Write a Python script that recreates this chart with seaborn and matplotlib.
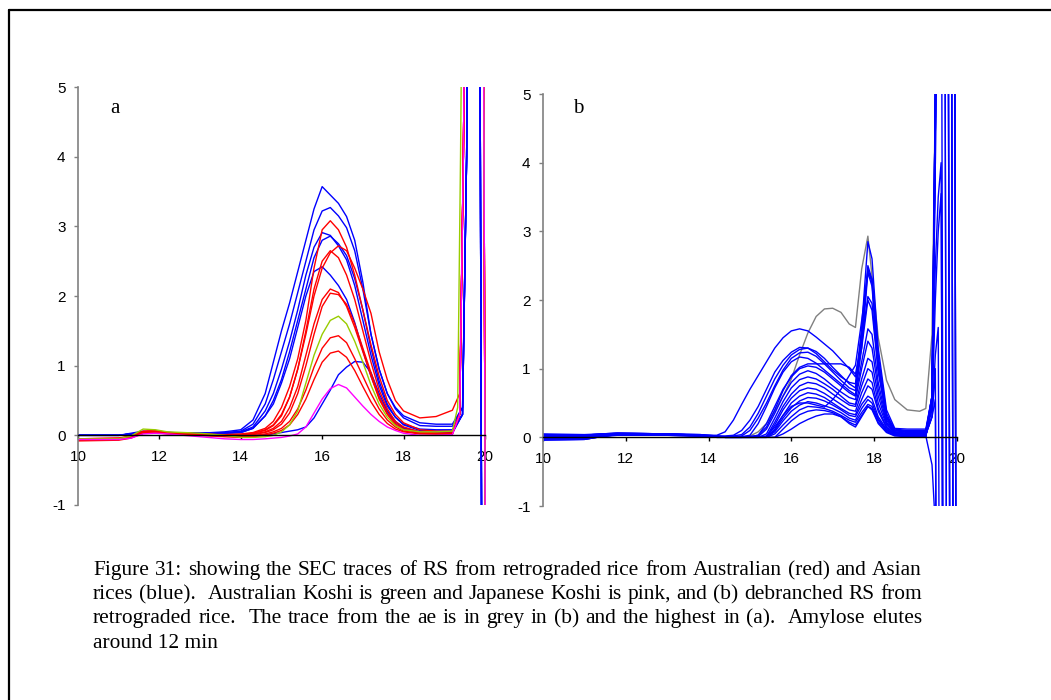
import re
import matplotlib
matplotlib.use("Agg")
import matplotlib.pyplot as plt
import pandas as pd
import seaborn as sns
from matplotlib.lines import Line2D

sns.set_theme(style="white")
plt.rcParams["font.family"] = ["Liberation Sans", "DejaVu Sans"]
plt.rcParams["axes.unicode_minus"] = False

# ---------------- data: panel a (SEC traces of RS) ----------------
time_a = [10.0, 11.0, 11.3, 11.6, 11.9, 12.2, 13.0, 13.6, 14.0, 14.3, 14.6, 14.8, 15.0, 15.2, 15.4,
          15.6, 15.8, 16.0, 16.2, 16.4, 16.6, 16.8, 17.0, 17.2, 17.4, 17.6, 17.8, 18.0, 18.4, 18.8]
tail_a_blue = [19.2, 19.45, 19.55, 19.62, 19.86, 19.96]
tail_a_red = [19.2, 19.38, 19.47, 19.55, 19.95, 20.05]
tail_a_green = [19.2, 19.33, 19.4, 19.48, 19.95, 20.05]
tail_a_pink = [19.2, 19.38, 19.47, 19.55, 19.95, 20.05]

a_blue_1 = [0.0, 0.0, 0.03, 0.06, 0.05, 0.04, 0.03, 0.05, 0.08, 0.22, 0.6, 1.05, 1.5, 1.9, 2.35, 2.8, 3.25, 3.57,
            3.45, 3.33, 3.14, 2.8, 2.2, 1.45, 0.95, 0.6, 0.4, 0.28, 0.18, 0.16, 0.16, 0.4, 4.0, 9, 9, -9]
a_blue_2 = [0.0, 0.0, 0.02, 0.05, 0.05, 0.04, 0.03, 0.04, 0.06, 0.16, 0.45, 0.8, 1.2, 1.6, 2.05, 2.5, 2.95, 3.22,
            3.27, 3.15, 2.98, 2.65, 2.1, 1.45, 0.95, 0.6, 0.38, 0.25, 0.14, 0.13, 0.13, 0.4, 4.0, 9, 9, -9]
a_blue_3 = [0.0, 0.0, 0.02, 0.05, 0.04, 0.04, 0.03, 0.03, 0.05, 0.12, 0.35, 0.6, 0.95, 1.35, 1.8, 2.3, 2.7, 2.91,
            2.87, 2.72, 2.52, 2.15, 1.65, 1.15, 0.72, 0.42, 0.26, 0.16, 0.09, 0.08, 0.08, 0.3, 4.0, 9, 9, -9]
a_blue_4 = [0.0, 0.0, 0.02, 0.04, 0.04, 0.03, 0.03, 0.03, 0.04, 0.1, 0.28, 0.5, 0.8, 1.2, 1.65, 2.1, 2.55, 2.8,
            2.86, 2.75, 2.58, 2.25, 1.8, 1.25, 0.78, 0.45, 0.26, 0.15, 0.07, 0.06, 0.06, 0.3, 4.0, 9, 9, -9]
a_blue_5 = [0.0, 0.0, 0.02, 0.04, 0.04, 0.03, 0.03, 0.03, 0.04, 0.1, 0.28, 0.45, 0.75, 1.1, 1.55, 2.0, 2.35, 2.42,
            2.3, 2.15, 1.95, 1.62, 1.22, 0.85, 0.55, 0.32, 0.19, 0.11, 0.05, 0.04, 0.04, 0.3, 4.0, 9, 9, -9]
a_blue_6 = [0.0, 0.0, 0.02, 0.04, 0.04, 0.03, 0.02, 0.01, 0.0, 0.0, 0.01, 0.02, 0.04, 0.06, 0.08, 0.12, 0.25, 0.45,
            0.65, 0.87, 0.98, 1.06, 1.05, 0.9, 0.6, 0.35, 0.2, 0.1, 0.04, 0.03, 0.03, 0.3, 4.0, 9, 9, -9]

a_red_1 = [-0.05, -0.04, -0.01, 0.06, 0.07, 0.04, 0.02, 0.01, 0.02, 0.04, 0.1, 0.2, 0.4, 0.7, 1.1, 1.65, 2.4, 2.95,
           3.08, 2.95, 2.7, 2.3, 1.8, 1.3, 0.85, 0.5, 0.3, 0.18, 0.08, 0.06, 0.06, 0.3, 4.0, 9, 9, -9]
a_red_2 = [-0.06, -0.05, -0.02, 0.05, 0.06, 0.04, 0.02, 0.0, 0.01, 0.03, 0.08, 0.15, 0.3, 0.55, 0.95, 1.45, 2.0, 2.4,
           2.62, 2.72, 2.65, 2.4, 2.1, 1.75, 1.2, 0.8, 0.5, 0.35, 0.25, 0.27, 0.36, 0.6, 4.0, 9, 9, -9]
a_red_3 = [-0.05, -0.04, -0.02, 0.05, 0.06, 0.04, 0.02, 0.0, 0.01, 0.03, 0.07, 0.14, 0.28, 0.55, 0.95, 1.5, 2.1, 2.5,
           2.65, 2.55, 2.3, 1.95, 1.5, 1.05, 0.65, 0.38, 0.2, 0.12, 0.05, 0.03, 0.03, 0.3, 4.0, 9, 9, -9]
a_red_4 = [-0.07, -0.06, -0.03, 0.04, 0.05, 0.03, 0.01, 0.0, 0.0, 0.02, 0.05, 0.1, 0.2, 0.4, 0.7, 1.15, 1.6, 1.95,
           2.1, 2.05, 1.85, 1.55, 1.2, 0.85, 0.52, 0.3, 0.15, 0.08, 0.04, 0.03, 0.03, 0.3, 4.0, 9, 9, -9]
a_red_5 = [-0.06, -0.05, -0.02, 0.05, 0.05, 0.03, 0.01, 0.0, 0.0, 0.01, 0.04, 0.08, 0.16, 0.32, 0.6, 1.0, 1.45, 1.85,
           2.04, 2.02, 1.88, 1.6, 1.25, 0.9, 0.55, 0.32, 0.17, 0.09, 0.04, 0.03, 0.03, 0.3, 4.0, 9, 9, -9]
a_red_6 = [-0.07, -0.06, -0.03, 0.04, 0.05, 0.03, 0.0, -0.01, -0.02, -0.01, 0.02, 0.05, 0.1, 0.2, 0.38, 0.65, 0.98,
           1.25, 1.4, 1.43, 1.33, 1.1, 0.85, 0.6, 0.38, 0.22, 0.12, 0.06, 0.03, 0.02, 0.02, 0.3, 4.0, 9, 9, -9]
a_red_7 = [-0.08, -0.07, -0.04, 0.03, 0.04, 0.02, 0.0, -0.02, -0.03, -0.02, 0.0, 0.03, 0.07, 0.15, 0.3, 0.52, 0.8,
           1.05, 1.18, 1.21, 1.12, 0.93, 0.7, 0.48, 0.3, 0.17, 0.09, 0.05, 0.02, 0.02, 0.02, 0.3, 4.0, 9, 9, -9]
a_green = [-0.05, -0.05, -0.01, 0.09, 0.08, 0.05, 0.03, 0.0, -0.03, -0.03, -0.02, 0.0, 0.05, 0.15, 0.35, 0.75, 1.15,
           1.45, 1.65, 1.71, 1.6, 1.35, 1.05, 0.72, 0.45, 0.26, 0.14, 0.08, 0.05, 0.05, 0.06, 0.4, 4.0, 9, 9, -9]
a_pink = [-0.06, -0.06, -0.04, 0.02, 0.03, 0.02, -0.02, -0.05, -0.06, -0.06, -0.05, -0.04, -0.03, -0.01, 0.02, 0.12,
          0.32, 0.52, 0.67, 0.73, 0.68, 0.55, 0.42, 0.3, 0.2, 0.12, 0.07, 0.03, 0.0, 0.0, 0.01, 0.3, 4.0, 9, 9, -9]

# ---------------- data: panel b (debranched RS) ----------------
time_b = [10.0, 11.0, 11.4, 11.8, 13.0, 13.8, 14.2, 14.4, 14.6, 14.8, 15.0, 15.2, 15.4, 15.6, 15.8, 16.0, 16.2,
          16.4, 16.6, 16.8, 17.0, 17.2, 17.4, 17.55, 17.7, 17.85, 17.95, 18.1, 18.3, 18.5, 18.8, 19.1,
          19.25, 19.4, 19.48, 19.55, 19.62, 19.7, 19.78, 19.86, 19.94, 20.0]

b_grey = [0.0, 0.0, 0.03, 0.04, 0.03, 0.02, 0.0,
          0.0, 0.0, 0.0, 0.02, 0.08, 0.2, 0.38, 0.6, 0.85, 1.2, 1.52, 1.76, 1.87, 1.88, 1.82, 1.65, 1.6, 2.45,
          2.93, 2.35, 1.45, 0.83, 0.55, 0.4, 0.38,
          0.42, 1.5, 5.0, 9, 9, 9, 9, 9, 9, -9]
b_blue_01 = [0.02, 0.02, 0.04, 0.05, 0.04, 0.03, 0.03,
             0.08, 0.25, 0.48, 0.7, 0.9, 1.1, 1.3, 1.45, 1.55, 1.58, 1.55, 1.46, 1.36, 1.26, 1.13, 1.0, 0.88, 1.3,
             2.0, 1.85, 0.95, 0.3, 0.12, 0.1, 0.1,
             0.1, 0.5, 4.0, 9, 9, 9, 9, 9, 9, -9]
b_blue_02 = [0.0, 0.0, 0.03, 0.05, 0.04, 0.03, 0.02,
             0.02, 0.03, 0.1, 0.25, 0.45, 0.7, 0.95, 1.12, 1.24, 1.31, 1.3, 1.22, 1.1, 0.98, 0.88, 0.8, 0.78, 1.6,
             2.85, 2.6, 1.3, 0.4, 0.13, 0.12, 0.12,
             0.12, 0.6, 5.0, 9, 9, 9, 9, 9, -9, -9]
b_blue_03 = [-0.03, -0.02, 0.02, 0.04, 0.04, 0.03, 0.01,
             0.01, 0.02, 0.04, 0.15, 0.35, 0.6, 0.85, 1.05, 1.2, 1.28, 1.3, 1.25, 1.15, 1.02, 0.9, 0.78, 0.72, 1.5,
             2.5, 2.3, 1.2, 0.35, 0.1, 0.08, 0.08,
             0.08, 0.6, 5.0, 9, 9, 9, 9, -9, -9, -9]
b_blue_04 = [0.04, 0.03, 0.05, 0.06, 0.05, 0.04, 0.02,
             0.01, 0.01, 0.02, 0.1, 0.28, 0.5, 0.75, 0.98, 1.15, 1.23, 1.24, 1.18, 1.07, 0.95, 0.83, 0.72, 0.68, 1.4,
             2.45, 2.25, 1.1, 0.3, 0.1, 0.07, 0.07,
             0.07, 0.5, 4.0, 9, 9, 9, -9, -9, -9, -9]
b_blue_05 = [-0.02, -0.02, 0.02, 0.05, 0.04, 0.02, 0.0,
             0.0, 0.0, 0.01, 0.03, 0.2, 0.45, 0.72, 0.95, 1.1, 1.17, 1.15, 1.08, 0.98, 0.88, 0.78, 0.68, 0.62, 1.3,
             2.4, 2.2, 1.0, 0.28, 0.08, 0.06, 0.06,
             0.06, 0.6, 5.0, 9, 9, -9, -9, -9, -9, -9]
b_blue_06 = [0.03, 0.03, 0.05, 0.06, 0.05, 0.03, 0.01,
             0.0, 0.0, 0.0, 0.01, 0.03, 0.15, 0.4, 0.68, 0.9, 1.02, 1.07, 1.07, 1.07, 1.07, 1.07, 1.02, 0.92, 1.4,
             2.05, 1.95, 1.0, 0.3, 0.1, 0.09, 0.09,
             0.09, 0.5, 2.5, 3.5, 4.0, -9, -9, -9, -9, -9]
b_blue_07 = [-0.04, -0.03, 0.01, 0.04, 0.03, 0.02, 0.0,
             0.0, 0.0, 0.0, 0.01, 0.03, 0.2, 0.45, 0.7, 0.88, 1.0, 1.04, 1.02, 0.95, 0.85, 0.75, 0.65, 0.6, 1.1,
             1.58, 1.5, 0.8, 0.25, 0.08, 0.05, 0.05,
             0.05, 0.4, 2.0, 3.0, 3.55, -9, -9, -9, -9, -9]
b_blue_08 = [0.01, 0.01, 0.04, 0.05, 0.04, 0.03, 0.01,
             0.0, 0.0, 0.0, 0.0, 0.01, 0.12, 0.35, 0.6, 0.8, 0.92, 0.97, 0.93, 0.85, 0.75, 0.66, 0.58, 0.55, 1.0,
             1.4, 1.3, 0.7, 0.22, 0.07, 0.05, 0.05,
             0.05, 0.3, 1.2, 1.6, -9, -9, -9, -9, -9, -9]
b_blue_09 = [0.05, 0.04, 0.05, 0.06, 0.05, 0.04, 0.02,
             0.0, 0.0, 0.0, 0.0, 0.0, 0.05, 0.28, 0.52, 0.72, 0.84, 0.88, 0.85, 0.78, 0.7, 0.6, 0.5, 0.48, 0.85,
             1.15, 1.1, 0.6, 0.2, 0.06, 0.04, 0.04,
             0.04, 0.3, 1.0, -9, -9, -9, -9, -9, -9, -9]
b_blue_10 = [-0.01, -0.01, 0.03, 0.05, 0.04, 0.03, 0.01,
             0.0, 0.0, 0.0, 0.0, 0.0, 0.01, 0.22, 0.45, 0.63, 0.75, 0.8, 0.78, 0.72, 0.63, 0.55, 0.47, 0.45, 0.75,
             1.0, 0.95, 0.5, 0.18, 0.06, 0.04, 0.04,
             0.04, 0.3, 0.55, -9, -9, -9, -9, -9, -9, -9]
b_blue_11 = [0.02, 0.02, 0.04, 0.05, 0.04, 0.03, 0.01,
             0.0, 0.0, 0.0, 0.0, 0.0, 0.0, 0.18, 0.4, 0.57, 0.68, 0.72, 0.7, 0.64, 0.56, 0.48, 0.4, 0.38, 0.65,
             0.85, 0.8, 0.42, 0.15, 0.05, 0.03, 0.03,
             0.02, -0.4, -1.3, -9, -9, -9, -9, -9, -9, -9]
b_blue_12 = [-0.03, -0.03, 0.01, 0.04, 0.03, 0.02, 0.0,
             0.0, 0.0, 0.0, 0.0, 0.0, 0.0, 0.12, 0.32, 0.5, 0.6, 0.65, 0.63, 0.58, 0.5, 0.42, 0.35, 0.33, 0.55,
             0.75, 0.7, 0.38, 0.14, 0.05, 0.03, 0.03,
             0.03, 0.5, 4.5, 9, 9, 9, -9, -9, -9, -9]
b_blue_13 = [0.0, 0.0, 0.03, 0.05, 0.04, 0.03, 0.01,
             0.0, 0.0, 0.0, 0.0, 0.0, 0.0, 0.1, 0.28, 0.43, 0.53, 0.58, 0.57, 0.53, 0.47, 0.4, 0.32, 0.3, 0.48,
             0.6, 0.56, 0.3, 0.12, 0.04, 0.02, 0.02,
             0.02, 0.5, 4.5, 9, 9, 9, 9, -9, -9, -9]
b_blue_14 = [0.03, 0.02, 0.04, 0.06, 0.05, 0.03, 0.01,
             0.0, 0.0, 0.0, 0.0, 0.0, 0.0, 0.08, 0.24, 0.38, 0.47, 0.52, 0.5, 0.46, 0.42, 0.36, 0.28, 0.25, 0.42,
             0.55, 0.5, 0.27, 0.1, 0.04, 0.02, 0.02,
             0.02, 0.5, 4.5, 9, 9, 9, 9, 9, -9, -9]
b_blue_15 = [-0.02, -0.02, 0.02, 0.04, 0.04, 0.02, 0.0,
             0.0, 0.0, 0.0, 0.0, 0.0, 0.0, 0.05, 0.18, 0.3, 0.4, 0.45, 0.44, 0.42, 0.38, 0.32, 0.25, 0.22, 0.36,
             0.48, 0.45, 0.25, 0.1, 0.04, 0.02, 0.02,
             0.02, 0.5, 4.5, 9, 9, 9, 9, 9, 9, -9]
b_blue_16 = [0.01, 0.01, 0.04, 0.05, 0.04, 0.03, 0.01,
             0.0, 0.0, 0.0, 0.0, 0.0, 0.0, 0.0, 0.12, 0.24, 0.33, 0.38, 0.4, 0.39, 0.36, 0.3, 0.22, 0.18, 0.32,
             0.45, 0.42, 0.22, 0.08, 0.03, 0.02, 0.02,
             0.02, 0.6, 5.0, 9, 9, 9, 9, -9, -9, -9]
b_blue_17 = [-0.04, -0.03, 0.01, 0.03, 0.03, 0.02, 0.0,
             0.0, 0.0, 0.0, 0.0, 0.0, 0.0, 0.0, 0.05, 0.12, 0.2, 0.26, 0.31, 0.34, 0.34, 0.3, 0.2, 0.15, 0.3,
             0.45, 0.4, 0.2, 0.07, 0.02, 0.01, 0.01,
             0.01, 0.5, 4.5, 9, 9, 9, 9, 9, -9, -9]
b_blue_18 = [0.02, 0.02, 0.04, 0.05, 0.05, 0.03, 0.01,
             0.0, 0.0, 0.0, 0.0, 0.0, 0.02, 0.15, 0.32, 0.45, 0.5, 0.5, 0.47, 0.44, 0.55, 0.7, 0.9, 1.05, 1.7,
             2.42, 2.3, 1.1, 0.3, 0.1, 0.09, 0.09,
             0.09, 0.6, 5.0, 9, 9, 9, 9, 9, 9, -9]

x_ticks = [10, 12, 14, 16, 18, 20]
y_ticks = [-1, 0, 1, 2, 3, 4, 5]
panel_letters = ["a", "b"]

caption_lines = [
    "Figure 31: showing the SEC traces of RS from retrograded rice from Australian (red) and Asian",
    "rices (blue).  Australian Koshi is green and Japanese Koshi is pink, and (b) debranched RS from",
    "retrograded rice.  The trace from the ae is in grey in (b) and the highest in (a).  Amylose elutes",
    "around 12 min",
]

palette = {"blue": "#0000FF", "red": "#FF0000", "green": "#99CC00", "pink": "#FF00FF", "grey": "#808080"}


def traces_frame(entries):
    parts = []
    for name, group, xs, ys in entries:
        assert len(xs) == len(ys), name
        parts.append(pd.DataFrame({"time": xs, "signal": ys, "trace": name, "group": group}))
    return pd.concat(parts, ignore_index=True)


a_entries = []
for i, ys in enumerate([a_blue_1, a_blue_2, a_blue_3, a_blue_4, a_blue_5, a_blue_6]):
    a_entries.append((f"ab{i}", "blue", time_a + tail_a_blue, ys))
for i, ys in enumerate([a_red_1, a_red_2, a_red_3, a_red_4, a_red_5, a_red_6, a_red_7]):
    a_entries.append((f"ar{i}", "red", time_a + tail_a_red, ys))
a_entries.append(("ag", "green", time_a + tail_a_green, a_green))
a_entries.append(("ap", "pink", time_a + tail_a_pink, a_pink))
df_a = traces_frame(a_entries)

b_list = [b_blue_01, b_blue_02, b_blue_03, b_blue_04, b_blue_05, b_blue_06, b_blue_07, b_blue_08, b_blue_09,
          b_blue_10, b_blue_11, b_blue_12, b_blue_13, b_blue_14, b_blue_15, b_blue_16, b_blue_17, b_blue_18]
b_entries = [("bgrey", "grey", time_b, b_grey)]
for i, ys in enumerate(b_list):
    b_entries.append((f"bb{i}", "blue", time_b, ys))
df_b = traces_frame(b_entries)

W, H = 1051, 700
fig = plt.figure(figsize=(W / 100, H / 100), dpi=100)
fig.patch.set_facecolor("white")

ax_a = fig.add_axes([78 / W, 1 - 505 / H, (489 - 78) / W, (505 - 87) / H])
ax_b = fig.add_axes([543 / W, 1 - 506 / H, (961 - 543) / W, (506 - 94) / H])

sns.lineplot(data=df_a, x="time", y="signal", hue="group", units="trace", estimator=None, sort=False,
             hue_order=["blue", "red", "green", "pink"], palette=palette, legend=False, linewidth=1.0, ax=ax_a)
sns.lineplot(data=df_b, x="time", y="signal", hue="group", units="trace", estimator=None, sort=False,
             hue_order=["grey", "blue"], palette=palette, legend=False, linewidth=1.0, ax=ax_b)

for ax, letter, (lx, ly) in [(ax_a, panel_letters[0], (10.8, 4.63)), (ax_b, panel_letters[1], (10.72, 4.72))]:
    ax.set_xlim(10, 20.1)
    ax.set_ylim(-1, 5)
    ax.set_facecolor("none")
    ax.set_xlabel("")
    ax.set_ylabel("")
    ax.grid(False)
    ax.spines["top"].set_visible(False)
    ax.spines["right"].set_visible(False)
    ax.spines["bottom"].set_position(("data", 0))
    ax.spines["bottom"].set_bounds(10, 20)
    ax.spines["bottom"].set_color("black")
    ax.spines["bottom"].set_linewidth(1.0)
    ax.spines["left"].set_color("#808080")
    ax.spines["left"].set_linewidth(1.2)
    ax.set_xticks(x_ticks)
    ax.set_yticks(y_ticks)
    ax.set_xticklabels([str(t) for t in x_ticks])
    ax.set_yticklabels([str(t) for t in y_ticks])
    ax.tick_params(axis="x", direction="out", length=3, width=1, color="black", pad=7.5,
                   labelsize=11, labelcolor="black", bottom=True)
    ax.tick_params(axis="y", direction="out", length=3, width=1, color="#808080", pad=6,
                   labelsize=11, labelcolor="black", left=True)
    ax.text(lx, ly, letter, family=["Liberation Serif", "DejaVu Serif"], fontsize=15, ha="left",
            va="baseline", color="black")

# frame lines of the page
fig.add_artist(Line2D([8.5 / W, 8.5 / W], [0, 1 - 9.5 / H], transform=fig.transFigure, color="black", lw=1.6))
fig.add_artist(Line2D([8.5 / W, 1], [1 - 9.5 / H, 1 - 9.5 / H], transform=fig.transFigure, color="black", lw=1.6))

# caption, justified
renderer = fig.canvas.get_renderer()
left_px, right_px = 93, 922
baselines_px = [575, 599, 623, 648]
cap_kw = dict(family=["Liberation Serif", "DejaVu Serif"], fontsize=15.4, color="black", va="baseline", ha="left")
for i, line in enumerate(caption_lines):
    y = 1 - baselines_px[i] / H
    if i == len(caption_lines) - 1:
        fig.text(left_px / W, y, line, **cap_kw)
        continue
    tokens = re.split(r"( +)", line)
    words, gaps = tokens[0::2], tokens[1::2]
    texts = [fig.text(0, y, w, **cap_kw) for w in words]
    widths = [t.get_window_extent(renderer).width for t in texts]
    free = (right_px - left_px) - sum(widths)
    unit = free / sum(len(g) for g in gaps)
    x = left_px
    for k, t in enumerate(texts):
        t.set_x(x / W)
        x += widths[k] + (unit * len(gaps[k]) if k < len(gaps) else 0)

fig.savefig("out.png", dpi=100, facecolor="white")
